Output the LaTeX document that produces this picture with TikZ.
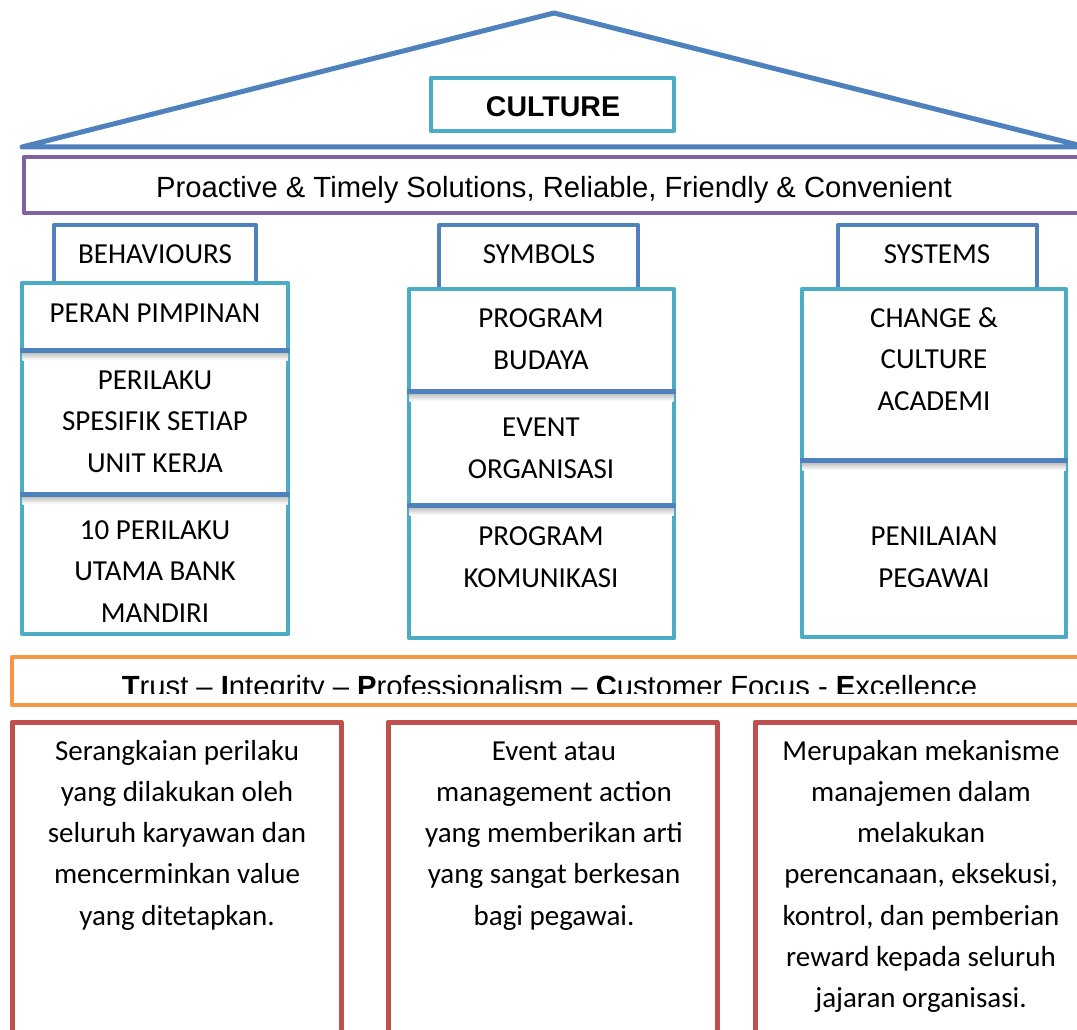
\documentclass[tikz,border=0pt]{standalone}
\usepackage{fontspec}
\setmainfont{Carlito}
\newfontfamily\arialfont{Liberation Sans}
\definecolor{roofblue}{HTML}{4F81BD}
\definecolor{boxcyan}{HTML}{4BACC6}
\definecolor{barpurple}{HTML}{8064A2}
\definecolor{barorange}{HTML}{F79646}
\definecolor{boxred}{HTML}{C0504D}
\begin{document}
\begin{tikzpicture}[x=1pt,y=-1pt,line join=round,
  roof/.style={draw=roofblue,line width=5pt,fill=white},
  tabbox/.style={draw=roofblue,line width=4.5pt,fill=white},
  colbox/.style={draw=boxcyan,line width=4.5pt,fill=white},
  divider/.style={draw=roofblue,line width=5pt},
  descbox/.style={draw=boxred,line width=5pt,fill=white},
  % multi-line texts are placed by the baseline of their last line
  body/.style={font=\fontsize{29}{41.3}\selectfont,inner sep=0pt,align=center,anchor=base},
  arial/.style={font=\arialfont\fontsize{29.2}{34}\selectfont,inner sep=0pt,anchor=base},
]
\useasboundingbox (0,0) rectangle (1077,1030);

% roof
\coordinate (apex) at (554,13);
\coordinate (eaveL) at (22,147);
\coordinate (eaveR) at (1086,147);
\draw[roof] (apex) -- (eaveL) -- (eaveR) -- cycle;
\draw[draw=boxcyan,line width=4.5pt,fill=white] (431,78) rectangle (674,131);
\node[arial,font=\arialfont\bfseries\fontsize{28.5}{34}\selectfont] (culture) at (553,117) {CULTURE};

% service promise bar
\draw[draw=barpurple,line width=4.5pt,fill=white] (24,157) rectangle (1090,213);
\node[arial] (promise) at (554,197) {Proactive \& Timely Solutions, Reliable, Friendly \& Convenient};

% pillar tabs
\draw[tabbox] (54,225) rectangle (256,290);
\draw[tabbox] (439,225) rectangle (638,295);
\draw[tabbox] (838,225) rectangle (1037,295);
\node[body] (behav) at (155,263) {BEHAVIOURS};
\node[body] (symb) at (539,263) {SYMBOLS};
\node[body] (syst) at (937,263) {SYSTEMS};

% pillar bodies
\draw[colbox] (22,283) rectangle (288,634);
\draw[colbox] (409,289) rectangle (674,638);
\draw[colbox] (802,289) rectangle (1066,637);

% section dividers with soft shadow
\foreach \xa/\xb/\yy in {20/290/350, 20/290/494, 407/676/391, 407/676/505, 800/1068/460}{
  \shade[top color=black!25,bottom color=white] (\xa+2.5,\yy+2.5) rectangle (\xb-2.5,\yy+10);
  \draw[divider] (\xa,\yy) -- (\xb,\yy);
}

% pillar texts
\node[body] (peran) at (155,322) {PERAN PIMPINAN};
\node[body] (spesifik) at (155,472) {PERILAKU\\SPESIFIK SETIAP\\UNIT KERJA};
\node[body] (utama) at (155,622) {10 PERILAKU\\UTAMA BANK\\MANDIRI};
\node[body] (budaya) at (541,369) {PROGRAM\\BUDAYA};
\node[body] (event) at (541,478) {EVENT\\ORGANISASI};
\node[body] (komunikasi) at (541,587) {PROGRAM\\KOMUNIKASI};
\node[body] (academi) at (934,410) {CHANGE \&\\CULTURE\\ACADEMI};
\node[body] (penilaian) at (934,587) {PENILAIAN\\PEGAWAI};

% core values bar
\draw[draw=barorange,line width=4.5pt,fill=white] (12,657) rectangle (1090,705);
\begin{scope}
  \clip (14,659) rectangle (1077,693);
  \node[arial] (values) at (549.5,696)
    {\textbf{T}rust – \textbf{I}ntegrity – \textbf{P}rofessionalism – \textbf{C}ustomer Focus - \textbf{E}xcellence};
\end{scope}

% descriptions
\draw[descbox] (12,722) rectangle (341,1033);
\draw[descbox] (388,722) rectangle (717,1033);
\draw[descbox] (755,722) rectangle (1090,1033);
\node[body] (descA) at (177,925.2) {Serangkaian perilaku\\yang dilakukan oleh\\seluruh karyawan dan\\mencerminkan value\\yang ditetapkan.};
\node[body] (descB) at (554,925.2) {Event atau\\management action\\yang memberikan arti\\yang sangat berkesan\\bagi pegawai.};
\node[body] (descC) at (921,1007.8) {Merupakan mekanisme\\manajemen dalam\\melakukan\\perencanaan, eksekusi,\\kontrol, dan pemberian\\reward kepada seluruh\\jajaran organisasi.};
\end{tikzpicture}
\end{document}
